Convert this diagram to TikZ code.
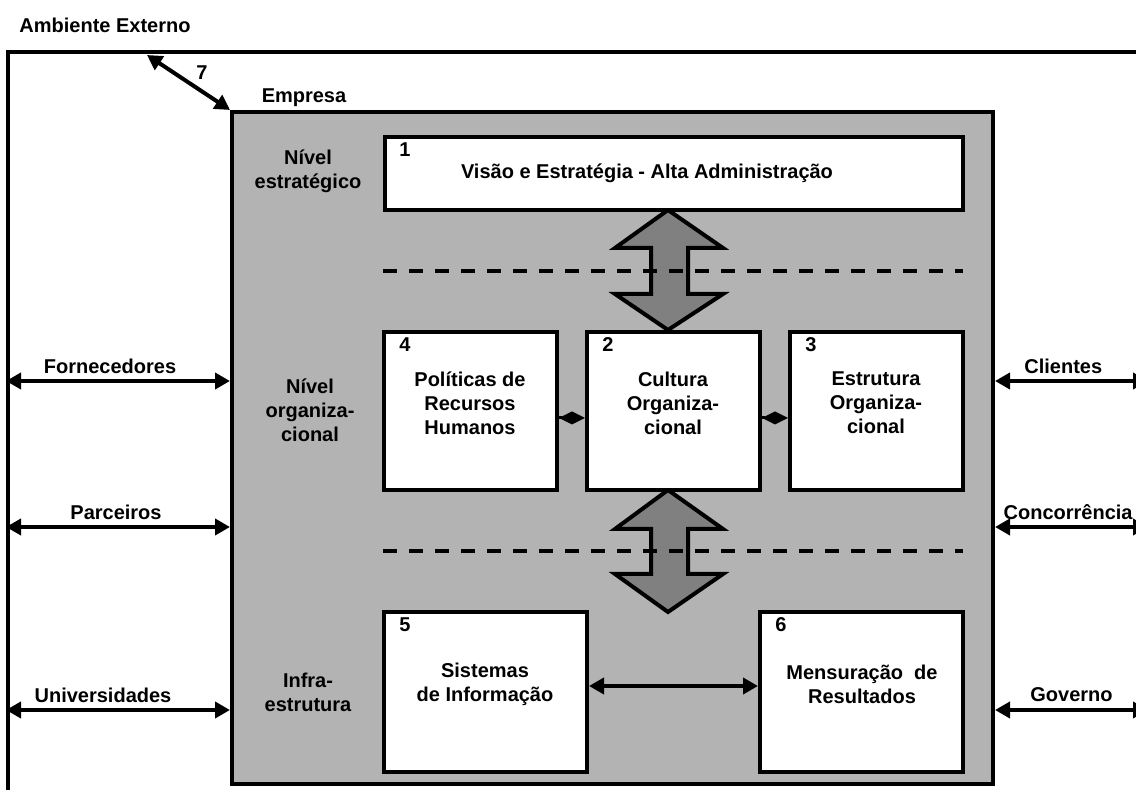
\documentclass[tikz,border=0pt]{standalone}
\usepackage{fontspec}
\setmainfont{Liberation Sans}
\usetikzlibrary{arrows.meta,fit}

\definecolor{fundoempresa}{RGB}{179,179,179}
\definecolor{setacinza}{RGB}{128,128,128}

\tikzset{
  every node/.style={font=\bfseries, inner sep=0pt},
  moldura/.style={draw, line width=2pt},
  caixa/.style={draw, line width=2pt, fill=white},
  rotulo/.style={align=center},
  seta/.style={line width=2pt, {Triangle[length=7.5pt,width=8pt]}-{Triangle[length=7.5pt,width=8pt]}},
  losango/.style={line width=1.5pt, -{Diamond[length=13pt,width=6.5pt]}},
  nivel/.style={line width=2pt, dash pattern=on 7pt off 6pt},
  setadupla/.style={draw, line width=2pt, fill=setacinza, line join=miter},
}

\begin{document}
\begin{tikzpicture}[x=0.5pt,y=-0.5pt]
\useasboundingbox (0,0) rectangle (1136,790);
\clip (0,0) rectangle (1136,790);
% ambiente externo e empresa
\node[moldura, fit={(8,52) (1146,830)}] (ambiente) {};
\node[moldura, fill=fundoempresa, fit={(232,112) (993,784)}] (empresa) {};
\node (tamb) at (105,25) {Ambiente Externo};
\node (temp) at (304,98) {Empresa};
\coordinate (c7) at (147,55);
\draw[seta] (c7) -- (empresa.north west);
\node (t7) at (202,73) {7};

% niveis
\node[rotulo] (n1) at (308,171) {Nível\\estratégico};
\node[rotulo] (n2) at (310,410) {Nível\\organiza-\\cional};
\node[rotulo] (n3) at (308,692) {Infra-\\estrutura};

% setas entre os niveis
\draw[setadupla] (668,210) -- (723,248) -- (688,248) -- (688,294) -- (723,294) -- (668,330)
  -- (615,294) -- (651,294) -- (651,248) -- (615,248) -- cycle;
\draw[setadupla] (668,490) -- (723,529) -- (688,529) -- (688,574) -- (723,574) -- (668,612)
  -- (615,574) -- (651,574) -- (651,529) -- (615,529) -- cycle;
\draw[nivel] (383,271) -- (963,271);
\draw[nivel] (383,551) -- (963,551);

% caixas
\node[caixa, fit={(385,137) (963,210)}] (b1) {};
\node[caixa, fit={(384,332) (557,490)}] (b4) {};
\node[caixa, fit={(587,332) (760,490)}] (b2) {};
\node[caixa, fit={(790,332) (963,490)}] (b3) {};
\node[caixa, fit={(384,612) (587,772)}] (b5) {};
\node[caixa, fit={(760,612) (963,772)}] (b6) {};

\node (k1) at (405,150) {1};
\node (k4) at (405,345) {4};
\node (k2) at (608,345) {2};
\node (k3) at (811,345) {3};
\node (k5) at (405,625) {5};
\node (k6) at (781,625) {6};

\node (t1) at (647,173) {Visão e Estratégia - Alta Administração};
\node[rotulo] (t4) at (470,403) {Políticas de\\Recursos\\Humanos};
\node[rotulo] (t2) at (673,403) {Cultura\\Organiza-\\cional};
\node[rotulo] (t3) at (876,403) {Estrutura\\Organiza-\\cional};
\node[rotulo] (t5) at (485,684) {Sistemas\\de Informação};
\node[rotulo] (t6) at (862,684) {Mensuração~~de\\Resultados};

\draw[losango] (b4.east |- 0,418) -- (b2.west |- 0,418);
\draw[losango] (b2.east |- 0,418) -- (b3.west |- 0,418);
\draw[seta] (b5.east |- 0,686) -- (b6.west |- 0,686);

% relacoes com o ambiente externo
\coordinate (r1) at (0,381);
\coordinate (r2) at (0,527);
\coordinate (r3) at (0,710);
\draw[seta] (ambiente.west |- r1) -- (empresa.west |- r1);
\draw[seta] (ambiente.west |- r2) -- (empresa.west |- r2);
\draw[seta] (ambiente.west |- r3) -- (empresa.west |- r3);
\draw[seta] (empresa.east |- r1) -- (ambiente.east |- r1);
\draw[seta] (empresa.east |- r2) -- (ambiente.east |- r2);
\draw[seta] (empresa.east |- r3) -- (ambiente.east |- r3);
\node (tforn) at (110,366) {Fornecedores};
\node (tparc) at (116,512) {Parceiros};
\node (tuniv) at (103,695) {Universidades};
\node[anchor=west] (tcli) at (1024,366) {Clientes};
\node[anchor=east] (tcon) at (1133,512) {Concorrência};
\node[anchor=west] (tgov) at (1030,695) {Governo};
\end{tikzpicture}
\end{document}
